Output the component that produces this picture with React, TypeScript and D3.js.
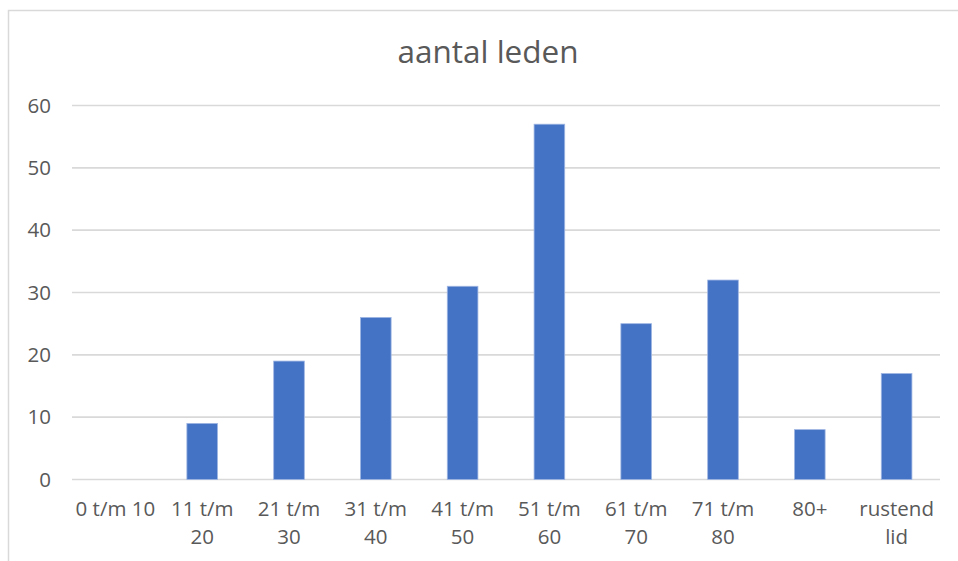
import React from "react";
import * as d3 from "d3";

const categories = ["0 t/m 10", "11 t/m 20", "21 t/m 30", "31 t/m 40", "41 t/m 50", "51 t/m 60", "61 t/m 70", "71 t/m 80", "80+", "rustend lid"];
const values = [0, 9, 19, 26, 31, 57, 25, 32, 8, 17];
const yTicks = [0, 10, 20, 30, 40, 50, 60];
const title = "aantal leden";

const W = 958;
const H = 561;
const FONT = "'Open Sans', sans-serif";
const TEXT = "#595959";
const GRID = "#d9d9d9";
const BAR = "#4472C4";
const LABEL_SIZE = 20.5;

function measure(text: string, size: number): number {
  const c = document.createElement("canvas").getContext("2d");
  if (!c) return text.length * size * 0.5;
  c.font = `${size}px 'Open Sans'`;
  return c.measureText(text).width;
}

function wrap(text: string, maxW: number): string[] {
  if (measure(text, LABEL_SIZE) <= maxW) return [text];
  const words = text.split(" ");
  const lines: string[] = [];
  let cur = "";
  for (const w of words) {
    const t = cur ? cur + " " + w : w;
    if (cur && measure(t, LABEL_SIZE) > maxW) {
      lines.push(cur);
      cur = w;
    } else cur = t;
  }
  if (cur) lines.push(cur);
  return lines;
}

export default function App() {
  const left = 72, right = 940, top = 105.5, bottom = 479.5;
  const x = d3.scaleBand<string>().domain(categories).range([left, right]).paddingInner(0.647).paddingOuter(0.3235);
  const y = d3.scaleLinear().domain([0, 60]).range([bottom, top]);
  const step = x.step();

  return (
    <svg width={W} height={H} style={{ position: "absolute", left: 0, top: 0 }} fontFamily={FONT}>
      <rect x={0} y={0} width={W} height={H} fill="#fff" />
      <rect x={8.5} y={10.5} width={W + 10} height={H + 10} fill="none" stroke={GRID} strokeWidth={1.5} />
      <text x={488} y={63} textAnchor="middle" fontSize={31.5} fill={TEXT}>{title}</text>
      {yTicks.map((t) => (
        <g key={t}>
          <line x1={left} x2={right} y1={y(t)} y2={y(t)} stroke={GRID} strokeWidth={1.6} />
          <text x={51} y={y(t)} dy="0.35em" textAnchor="end" fontSize={LABEL_SIZE} fill={TEXT}>{t}</text>
        </g>
      ))}
      {categories.map((c, i) => (
        <rect
          key={c}
          x={x(c)!}
          y={y(values[i])}
          width={x.bandwidth()}
          height={bottom - y(values[i])}
          fill={BAR}
          stroke="#9fb6e3"
          strokeWidth={values[i] > 0 ? 0.8 : 0}
        />
      ))}
      {categories.map((c) => {
        const lines = wrap(c, step * 0.96);
        const cx = x(c)! + x.bandwidth() / 2;
        return (
          <text key={c} x={cx} y={516} textAnchor="middle" fontSize={LABEL_SIZE} fill={TEXT}>
            {lines.map((l, j) => (
              <tspan key={j} x={cx} y={516 + j * 28}>{l}</tspan>
            ))}
          </text>
        );
      })}
    </svg>
  );
}
